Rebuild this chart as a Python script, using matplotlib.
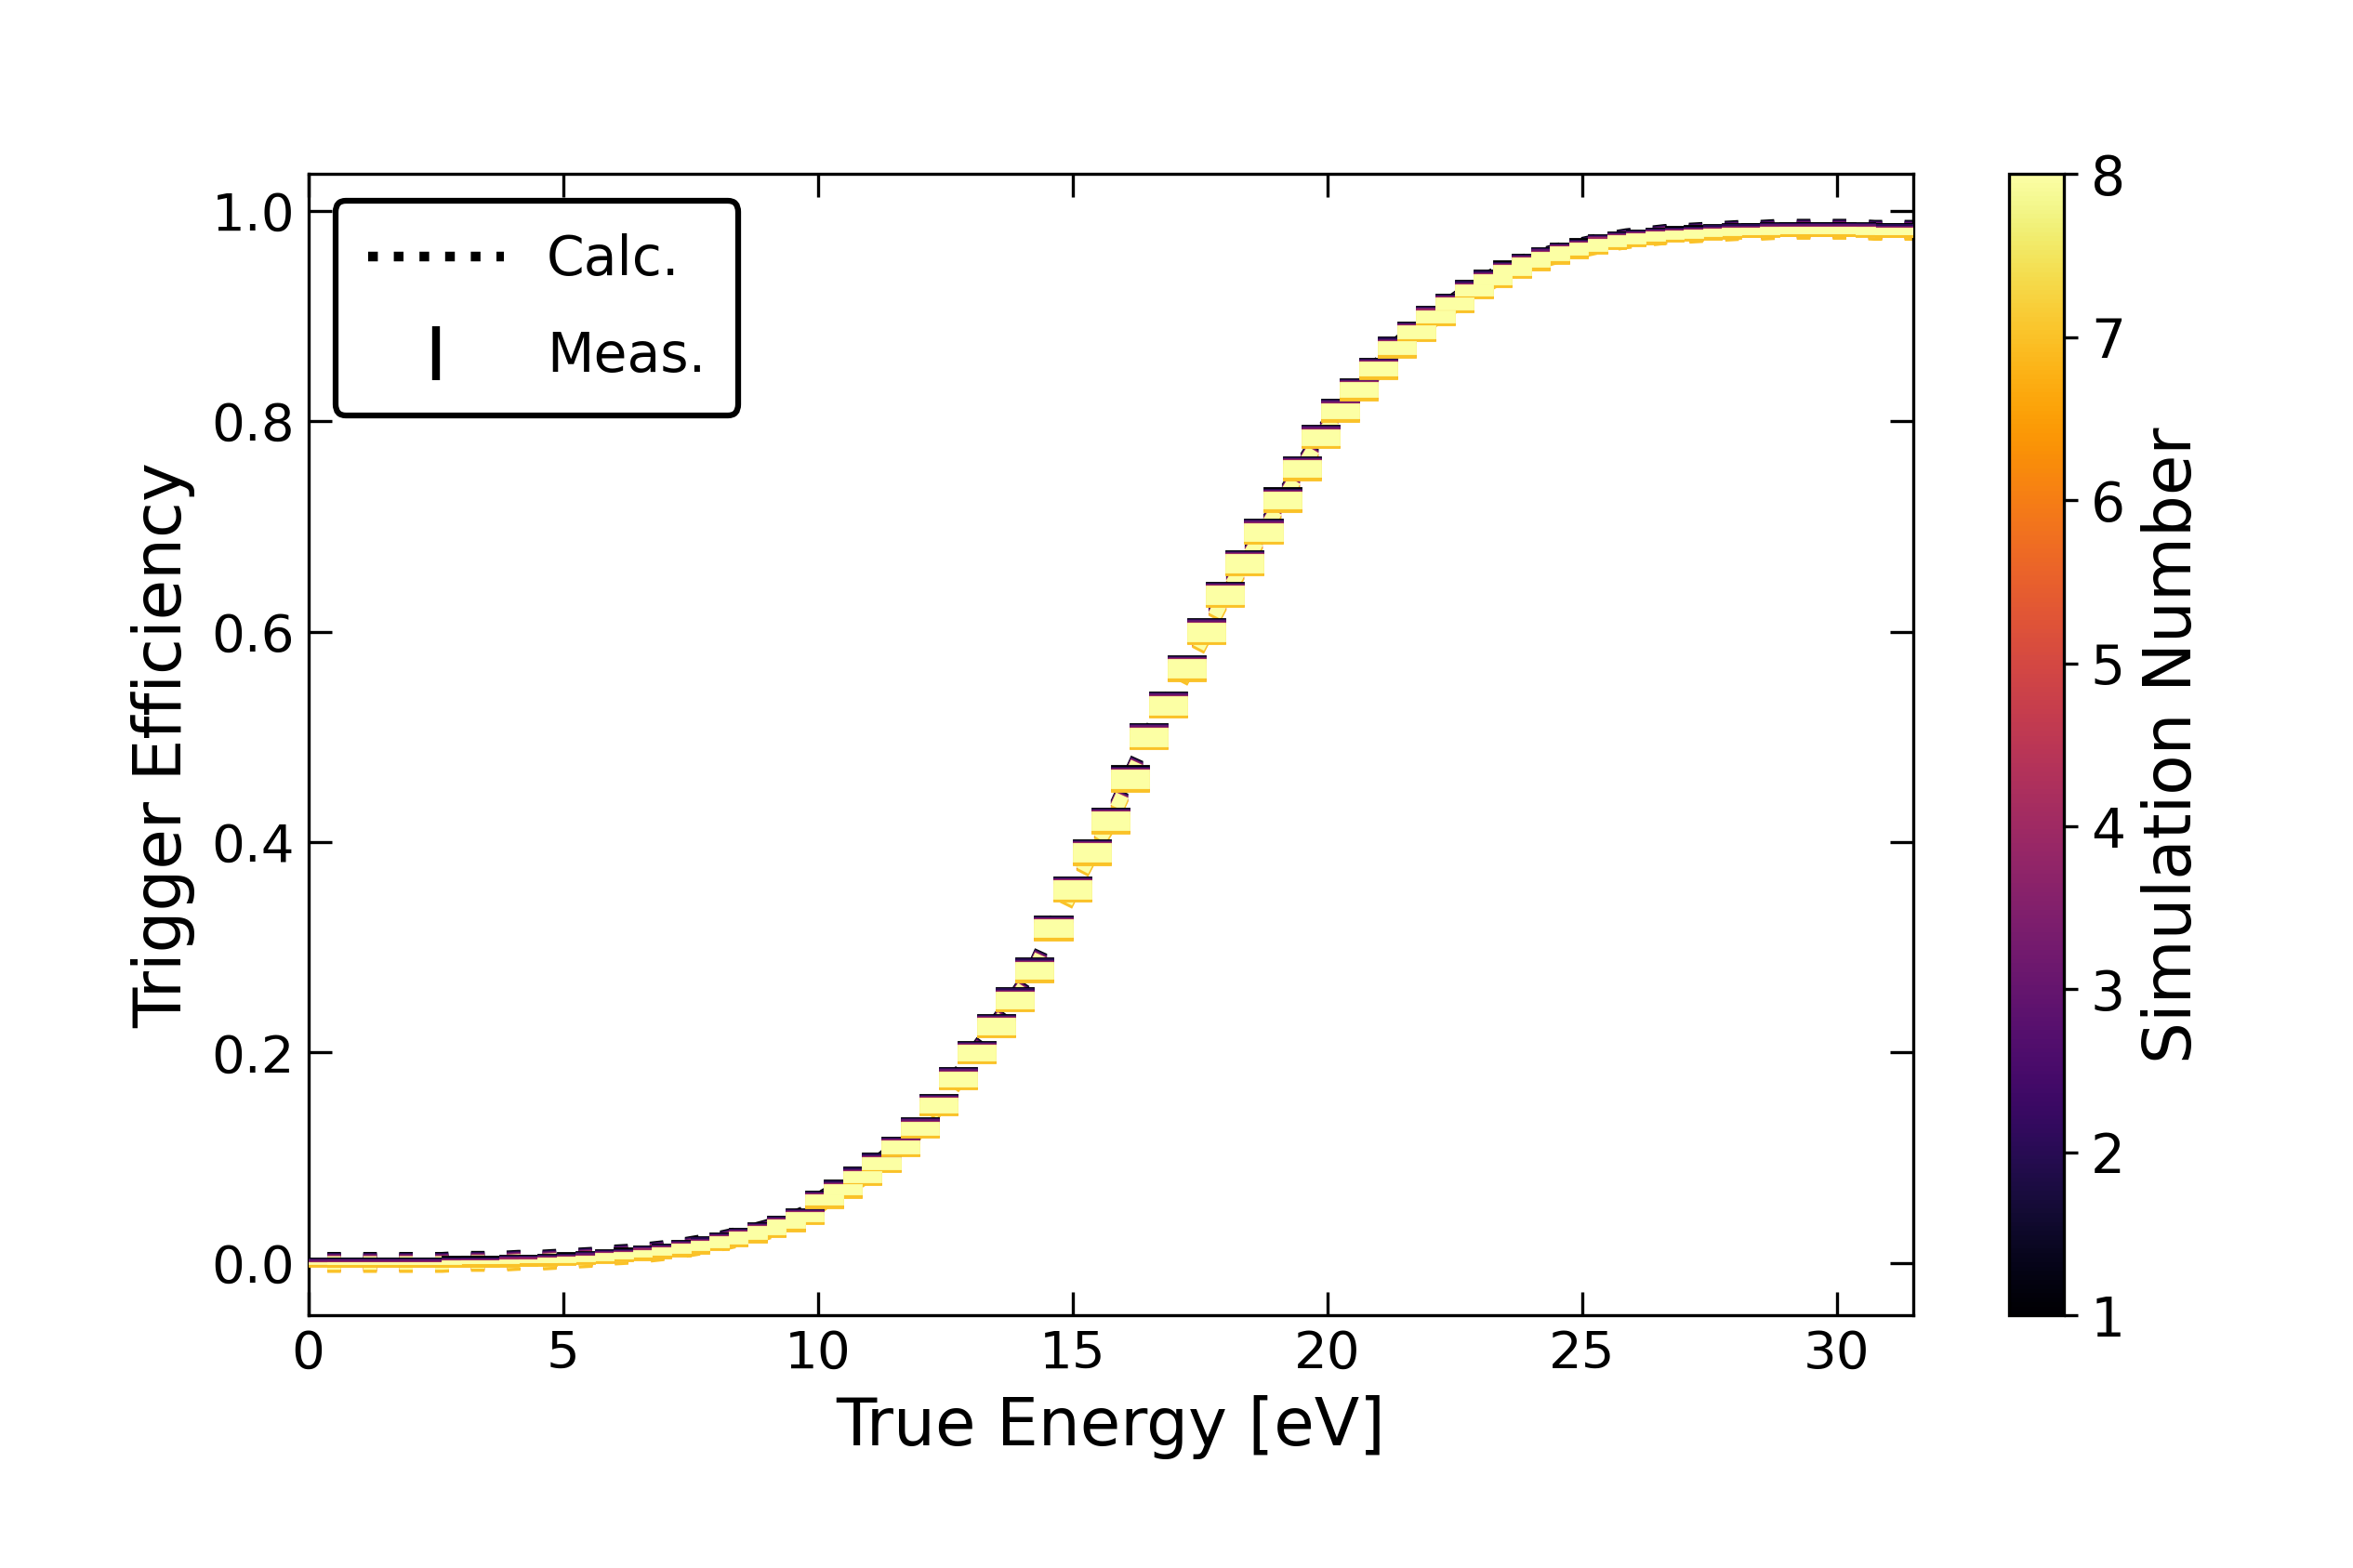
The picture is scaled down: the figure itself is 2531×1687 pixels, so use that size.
import numpy as np
import matplotlib
matplotlib.use("Agg")
import matplotlib.pyplot as plt
from matplotlib.lines import Line2D
from matplotlib.collections import PatchCollection
from matplotlib.patches import Rectangle

bin_width = 0.75
energy = [0.375*(i+1) for i in range(84)]
eff = [0.000,0.000,0.000,0.000,0.000,0.000,0.000,0.001,0.001,0.001,
       0.002,0.002,0.003,0.004,0.005,0.007,0.008,0.010,0.012,0.015,
       0.018,0.022,0.026,0.031,0.037,0.044,0.060,0.070,0.082,0.095,
       0.110,0.128,0.150,0.175,0.200,0.225,0.250,0.278,0.318,0.355,
       0.390,0.420,0.460,0.500,0.530,0.565,0.600,0.635,0.665,0.695,
       0.725,0.755,0.785,0.810,0.830,0.850,0.870,0.885,0.900,0.912,
       0.925,0.935,0.944,0.951,0.957,0.962,0.966,0.970,0.973,0.975,
       0.977,0.978,0.979,0.980,0.981,0.981,0.982,0.982,0.982,0.982,
       0.982,0.981,0.981,0.981]
sims = [1,2,3,4,5,6,7,8]
sim_offset = [0.004,0.003,0.002,0.001,-0.001,-0.002,-0.003,0.000]

E = np.array(energy); P = np.array(eff)
err = 0.016*np.sqrt(P*(1-P)) + 0.001

fig = plt.figure(figsize=(2531/300, 1687/300), dpi=300)
ax = fig.add_axes([0.131, 0.161, 0.682, 0.728])
cax = fig.add_axes([0.854, 0.161, 0.023, 0.728])
cmap = plt.get_cmap('inferno')
norm = matplotlib.colors.Normalize(1, 8)

for s, off in zip(sims, sim_offset):
    col = cmap(norm(s))
    ax.plot(E, P+off, ls=':', lw=3.5, color=col, zorder=2)
for s, off in zip(sims, sim_offset):
    col = cmap(norm(s))
    rects = [Rectangle((e-bin_width/2, p+off-r), bin_width, 2*r) for e, p, r in zip(E, P, err)]
    ax.add_collection(PatchCollection(rects, facecolor=col, edgecolor=col, lw=0.2, zorder=3))

ax.set_xlim(0, 31.5)
ax.set_ylim(-0.05, 1.035)
ax.set_yticks([0, 0.2, 0.4, 0.6, 0.8, 1.0])
ax.set_xticks([0, 5, 10, 15, 20, 25, 30])
ax.tick_params(direction='in', top=True, right=True, labelsize=13.5, length=6)
ax.set_xlabel('True Energy [eV]', fontsize=17)
ax.set_ylabel('Trigger Efficiency', fontsize=17)

h1 = Line2D([], [], ls=':', lw=2.5, color='k')
h2 = ax.errorbar([], [], yerr=[], fmt='none', ecolor='k', capsize=5, lw=2)
leg = ax.legend([h1, h2], ['Calc.', 'Meas.'], loc='upper left', fontsize=14,
                frameon=True, fancybox=True, edgecolor='k', framealpha=1,
                handlelength=2.5, borderpad=0.6, labelspacing=0.8)
leg.get_frame().set_linewidth(1.5)

cb = fig.colorbar(matplotlib.cm.ScalarMappable(norm=norm, cmap=cmap), cax=cax)
cb.set_label('Simulation Number', fontsize=17)
cb.ax.tick_params(labelsize=14)
fig.savefig('out.png', dpi=300)
